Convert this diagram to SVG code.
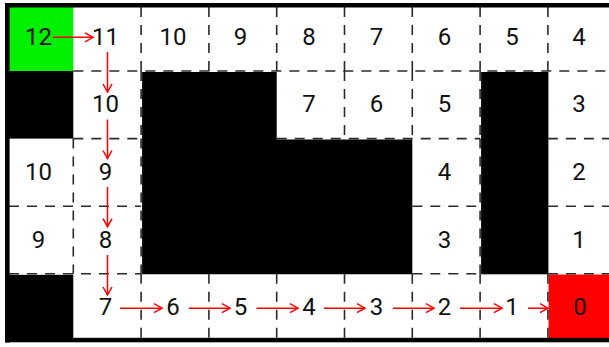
<svg xmlns="http://www.w3.org/2000/svg" width="609" height="347" viewBox="0 0 609 347">
<style>
.num{font-family:Roboto,"Liberation Sans",sans-serif;font-size:24px;fill:#111;text-anchor:middle}
.grid line{stroke:#2a2a2a;stroke-width:1.6;stroke-dasharray:10 8}
.wall{fill:#000}
.arr{stroke:#f00;stroke-width:1.5;fill:none;marker-end:url(#ah)}
</style>
<defs>
<marker id="ah" markerUnits="userSpaceOnUse" markerWidth="12" markerHeight="12" viewBox="-10 -6 12 12" refX="0" refY="0" orient="auto" overflow="visible">
<path d="M-8,-4.5 L0,0 L-8,4.5" fill="none" stroke="#f00" stroke-width="1.5"/>
</marker>
</defs>
<rect x="0" y="0" width="609" height="347" fill="#fff"/>
<g id="walls">
<rect class="wall" x="9" y="71" width="64.3" height="67.6"/>
<rect class="wall" x="9" y="274.8" width="64.3" height="63.2"/>
<path class="wall" d="M142.1,72 H276.7 V139.6 H412.3 V274.3 H142.1 Z"/>
<rect class="wall" x="481.1" y="72" width="67.3" height="202.3"/>
</g>
<g id="grid" class="grid">
<line x1="141.1" y1="7" x2="141.1" y2="71"/>
<line x1="208.9" y1="7" x2="208.9" y2="71"/>
<line x1="276.7" y1="7" x2="276.7" y2="71"/>
<line x1="344.5" y1="7" x2="344.5" y2="71"/>
<line x1="412.3" y1="7" x2="412.3" y2="71"/>
<line x1="480.1" y1="7" x2="480.1" y2="71"/>
<line x1="547.9" y1="7" x2="547.9" y2="71"/>
<line x1="141.1" y1="71" x2="141.1" y2="138.6"/>
<line x1="344.5" y1="71" x2="344.5" y2="138.6"/>
<line x1="412.3" y1="71" x2="412.3" y2="138.6"/>
<line x1="480.1" y1="71" x2="480.1" y2="138.6"/>
<line x1="73.3" y1="138.6" x2="73.3" y2="273.8"/>
<line x1="141.1" y1="138.6" x2="141.1" y2="273.8"/>
<line x1="480.1" y1="138.6" x2="480.1" y2="273.8"/>
<line x1="141.1" y1="273.8" x2="141.1" y2="338"/>
<line x1="208.9" y1="273.8" x2="208.9" y2="338"/>
<line x1="276.7" y1="273.8" x2="276.7" y2="338"/>
<line x1="344.5" y1="273.8" x2="344.5" y2="338"/>
<line x1="412.3" y1="273.8" x2="412.3" y2="338"/>
<line x1="480.1" y1="273.8" x2="480.1" y2="338"/>
<line x1="73.3" y1="71" x2="609" y2="71"/>
<line x1="73.3" y1="138.6" x2="141.1" y2="138.6"/>
<line x1="276.7" y1="138.6" x2="480.1" y2="138.6"/>
<line x1="547.9" y1="138.6" x2="609" y2="138.6"/>
<line x1="9" y1="206.2" x2="141.1" y2="206.2"/>
<line x1="412.3" y1="206.2" x2="480.1" y2="206.2"/>
<line x1="547.9" y1="206.2" x2="609" y2="206.2"/>
<line x1="9" y1="273.8" x2="141.1" y2="273.8"/>
<line x1="412.3" y1="273.8" x2="480.1" y2="273.8"/>
</g>
<g id="cell-0-0"><rect x="9" y="7" width="64.3" height="64" fill="#00f000"/><text class="num" x="38.5" y="44.6">12</text></g>
<g id="cell-0-1"><text class="num" x="105.5" y="44.6">11</text></g>
<g id="cell-0-2"><text class="num" x="173" y="44.6">10</text></g>
<g id="cell-0-3"><text class="num" x="240.5" y="44.6">9</text></g>
<g id="cell-0-4"><text class="num" x="309" y="44.6">8</text></g>
<g id="cell-0-5"><text class="num" x="376.5" y="44.6">7</text></g>
<g id="cell-0-6"><text class="num" x="444.5" y="44.6">6</text></g>
<g id="cell-0-7"><text class="num" x="512" y="44.6">5</text></g>
<g id="cell-0-8"><text class="num" x="579" y="44.6">4</text></g>
<g id="cell-1-1"><text class="num" x="105.5" y="112.3">10</text></g>
<g id="cell-1-4"><text class="num" x="309" y="112.3">7</text></g>
<g id="cell-1-5"><text class="num" x="376.5" y="112.3">6</text></g>
<g id="cell-1-6"><text class="num" x="444.5" y="112.3">5</text></g>
<g id="cell-1-8"><text class="num" x="579" y="112.3">3</text></g>
<g id="cell-2-0"><text class="num" x="38.5" y="180">10</text></g>
<g id="cell-2-1"><text class="num" x="105.5" y="180">9</text></g>
<g id="cell-2-6"><text class="num" x="444.5" y="180">4</text></g>
<g id="cell-2-8"><text class="num" x="579" y="180">2</text></g>
<g id="cell-3-0"><text class="num" x="38.5" y="247.7">9</text></g>
<g id="cell-3-1"><text class="num" x="105.5" y="247.7">8</text></g>
<g id="cell-3-6"><text class="num" x="444.5" y="247.7">3</text></g>
<g id="cell-3-8"><text class="num" x="579" y="247.7">1</text></g>
<g id="cell-4-1"><text class="num" x="105.5" y="315.4">7</text></g>
<g id="cell-4-2"><text class="num" x="173" y="315.4">6</text></g>
<g id="cell-4-3"><text class="num" x="240.5" y="315.4">5</text></g>
<g id="cell-4-4"><text class="num" x="309" y="315.4">4</text></g>
<g id="cell-4-5"><text class="num" x="376.5" y="315.4">3</text></g>
<g id="cell-4-6"><text class="num" x="444.5" y="315.4">2</text></g>
<g id="cell-4-7"><text class="num" x="512" y="315.4">1</text></g>
<g id="cell-4-8"><rect x="548.6" y="274.5" width="61" height="63.5" fill="#f00"/><line x1="547.9" y1="273.8" x2="547.9" y2="338" stroke="#2a2a2a" stroke-width="1.6" stroke-dasharray="10 8"/><line x1="547.9" y1="273.8" x2="609" y2="273.8" stroke="#2a2a2a" stroke-width="1.6" stroke-dasharray="10 8"/><text class="num" x="580" y="315.4">0</text></g>
<g id="connectors">
<line class="arr" x1="53" y1="37.3" x2="93" y2="37.3"/>
<line class="arr" x1="107.5" y1="52" x2="107.5" y2="92"/>
<line class="arr" x1="107.5" y1="119.5" x2="107.5" y2="158.5"/>
<line class="arr" x1="107.5" y1="187" x2="107.5" y2="226.7"/>
<line class="arr" x1="107.5" y1="255" x2="107.5" y2="295"/>
<line class="arr" x1="120" y1="308.2" x2="162" y2="308.2"/>
<line class="arr" x1="189" y1="308.2" x2="230" y2="308.2"/>
<line class="arr" x1="256.5" y1="308.2" x2="298" y2="308.2"/>
<line class="arr" x1="324" y1="308.2" x2="365" y2="308.2"/>
<line class="arr" x1="393" y1="308.2" x2="434" y2="308.2"/>
<line class="arr" x1="460" y1="308.2" x2="502" y2="308.2"/>
<line class="arr" x1="528" y1="308.2" x2="548" y2="308.2"/>
</g>
<g id="frame" fill="#000">
<rect x="5" y="3" width="604" height="4.5"/>
<rect x="5" y="3" width="4.6" height="339.5"/>
<rect x="5" y="337.8" width="604" height="4.5"/>
</g>
</svg>
